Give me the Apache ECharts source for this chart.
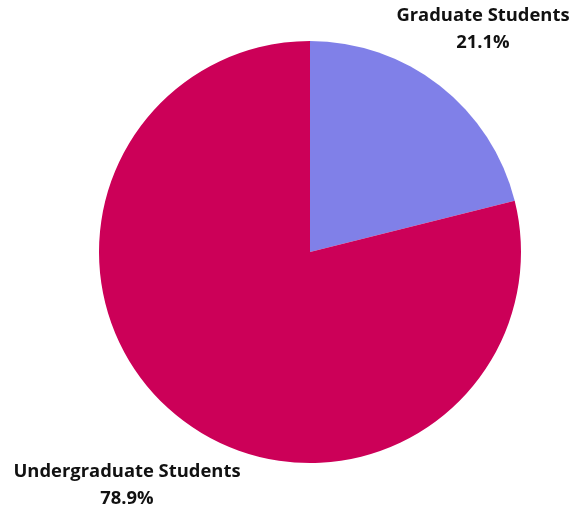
<!DOCTYPE html>
<html>
<head>
    <meta charset="utf-8">
    <title>Students</title>
    <style>
        html, body { margin: 0; padding: 0; background: #fff; }
        #main { width: 574px; height: 512px; }
    </style>
</head>
<body>
    <div id="main"></div>
    <script src="https://cdn.jsdelivr.net/npm/echarts@6/dist/echarts.min.js"></script>
    <script>
        // data
        var categories = ['Graduate Students', 'Undergraduate Students'];
        var shares = [21.1, 78.9];
        var colors = ['#8080e8', '#cc0058'];

        // label anchor points (centre of the text block)
        var labelPos = [[483, 29], [127, 485]];

        var myChart = echarts.init(document.getElementById('main'));

        var pieData = [];
        for (var i = 0; i < categories.length; i++) {
            pieData.push({ name: categories[i], value: shares[i], itemStyle: { color: colors[i] } });
        }

        var option = {
            backgroundColor: '#fff',
            animation: false,
            series: [{
                type: 'pie',
                center: [310, 252],
                radius: 211,
                startAngle: 90,
                clockwise: true,
                data: pieData,
                itemStyle: { borderWidth: 0 },
                label: {
                    show: true,
                    position: 'outside',
                    overflow: 'none',
                    fontFamily: 'Open Sans',
                    fontWeight: 'bold',
                    fontSize: 18.4,
                    lineHeight: 27,
                    color: '#111',
                    align: 'center',
                    formatter: function (p) {
                        return p.name + '\n' + p.value.toFixed(1) + '%';
                    }
                },
                labelLine: { show: false },
                labelLayout: function (params) {
                    var pos = labelPos[params.dataIndex];
                    return { x: pos[0], y: pos[1], align: 'center', verticalAlign: 'middle', width: 300 };
                }
            }]
        };

        myChart.setOption(option);
    </script>
</body>
</html>
